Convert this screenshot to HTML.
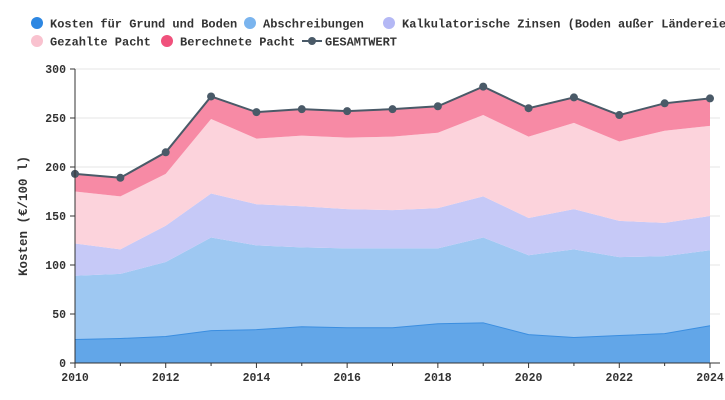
<!DOCTYPE html>
<html><head><meta charset="utf-8"><style>
html,body{margin:0;padding:0;background:#fff;}
svg{display:block;font-family:"Liberation Mono","DejaVu Sans Mono",monospace;}
</style></head><body>
<svg id="c" width="725" height="400" viewBox="0 0 725 400" xmlns="http://www.w3.org/2000/svg">
<g font-size="12" font-weight="bold" fill="#333">
<circle cx="37" cy="23" r="6" fill="#2d87e2"/><text x="50" y="27.5">Kosten für Grund und Boden</text>
<circle cx="250" cy="23" r="6" fill="#7ab4ee"/><text x="263" y="27.5">Abschreibungen</text>
<circle cx="389" cy="23" r="6" fill="#b4b8f5"/><text x="402" y="27.5">Kalkulatorische Zinsen (Boden außer Ländereien)</text>
<circle cx="37" cy="41" r="6" fill="#f9c2cf"/><text x="50" y="45.5">Gezahlte Pacht</text>
<circle cx="167" cy="41" r="6" fill="#f0517c"/><text x="180" y="45.5">Berechnete Pacht</text>
<line x1="302" y1="41" x2="322" y2="41" stroke="#4a5a68" stroke-width="2"/><circle cx="312" cy="41" r="4" fill="#4a5a68"/><text x="325" y="45.5">GESAMTWERT</text>
</g>
<g id="grid"></g>
<g id="areas"></g>
<g id="axes"></g>
</svg>
<script>
var y0=363,k=0.98,x0=75,dx=(710-75)/14;
var L=[[24,25,27,33,34,37,36,36,40,41,29,26,28,30,38],
[89,91,103,128,120,118,117,117,117,128,110,116,108,109,115],
[122,116,140,173,162,160,157,156,158,170,148,157,145,143,150],
[175,170,193,249,229,232,230,231,235,253,231,245,226,237,242],
[193,189,215,272,256,259,257,259,262,282,260,271,253,265,270]];
var cols=["#62a6e8","#9ec8f2","#c6c9f7","#fcd3dc","#f78aa5"];
function X(i){return x0+i*dx} function Y(v){return y0-v*k}
var s="";
for(var v=50;v<=300;v+=50)s+='<line x1="75" x2="720" y1="'+Y(v)+'" y2="'+Y(v)+'" stroke="#e6e6e6"/>';
document.getElementById('grid').innerHTML=s;
s="";
for(var j=0;j<5;j++){var p="";for(var i=0;i<15;i++)p+=X(i)+","+Y(L[j][i])+" ";
for(var i=14;i>=0;i--)p+=X(i)+","+Y(j?L[j-1][i]:0)+" ";
s+='<polygon points="'+p+'" fill="'+cols[j]+'"/>';}
var pl="";for(var i=0;i<15;i++)pl+=X(i)+","+Y(L[0][i])+" ";
s+='<polyline points="'+pl+'" fill="none" stroke="#3b8ee0" stroke-width="1"/>';
pl="";for(var i=0;i<15;i++)pl+=X(i)+","+Y(L[4][i])+" ";
s+='<polyline points="'+pl+'" fill="none" stroke="#4a5a68" stroke-width="2"/>';
for(var i=0;i<15;i++)s+='<circle cx="'+X(i)+'" cy="'+Y(L[4][i])+'" r="4" fill="#4a5a68"/>';
document.getElementById('areas').innerHTML=s;
s='<line x1="75" x2="75" y1="69" y2="363" stroke="#333"/><line x1="75" x2="720" y1="363" y2="363" stroke="#333"/>';
for(var v=0;v<=300;v+=50)s+='<line x1="70" x2="75" y1="'+Y(v)+'" y2="'+Y(v)+'" stroke="#333"/><text x="66" y="'+(Y(v)+4)+'" text-anchor="end" font-size="11.5" font-weight="bold" fill="#333">'+v+'</text>';
for(var i=0;i<15;i++){s+='<line x1="'+X(i)+'" x2="'+X(i)+'" y1="363" y2="'+(i%2?366:368)+'" stroke="#333"/>';
if(i%2==0)s+='<text x="'+X(i)+'" y="381" text-anchor="middle" font-size="11.5" font-weight="bold" fill="#333">'+(2010+i)+'</text>';}
s+='<text transform="translate(27,216) rotate(-90)" text-anchor="middle" font-size="12.5" font-weight="bold" fill="#333">Kosten (€/100 l)</text>';
document.getElementById('axes').innerHTML=s;
</script>
</body></html>
